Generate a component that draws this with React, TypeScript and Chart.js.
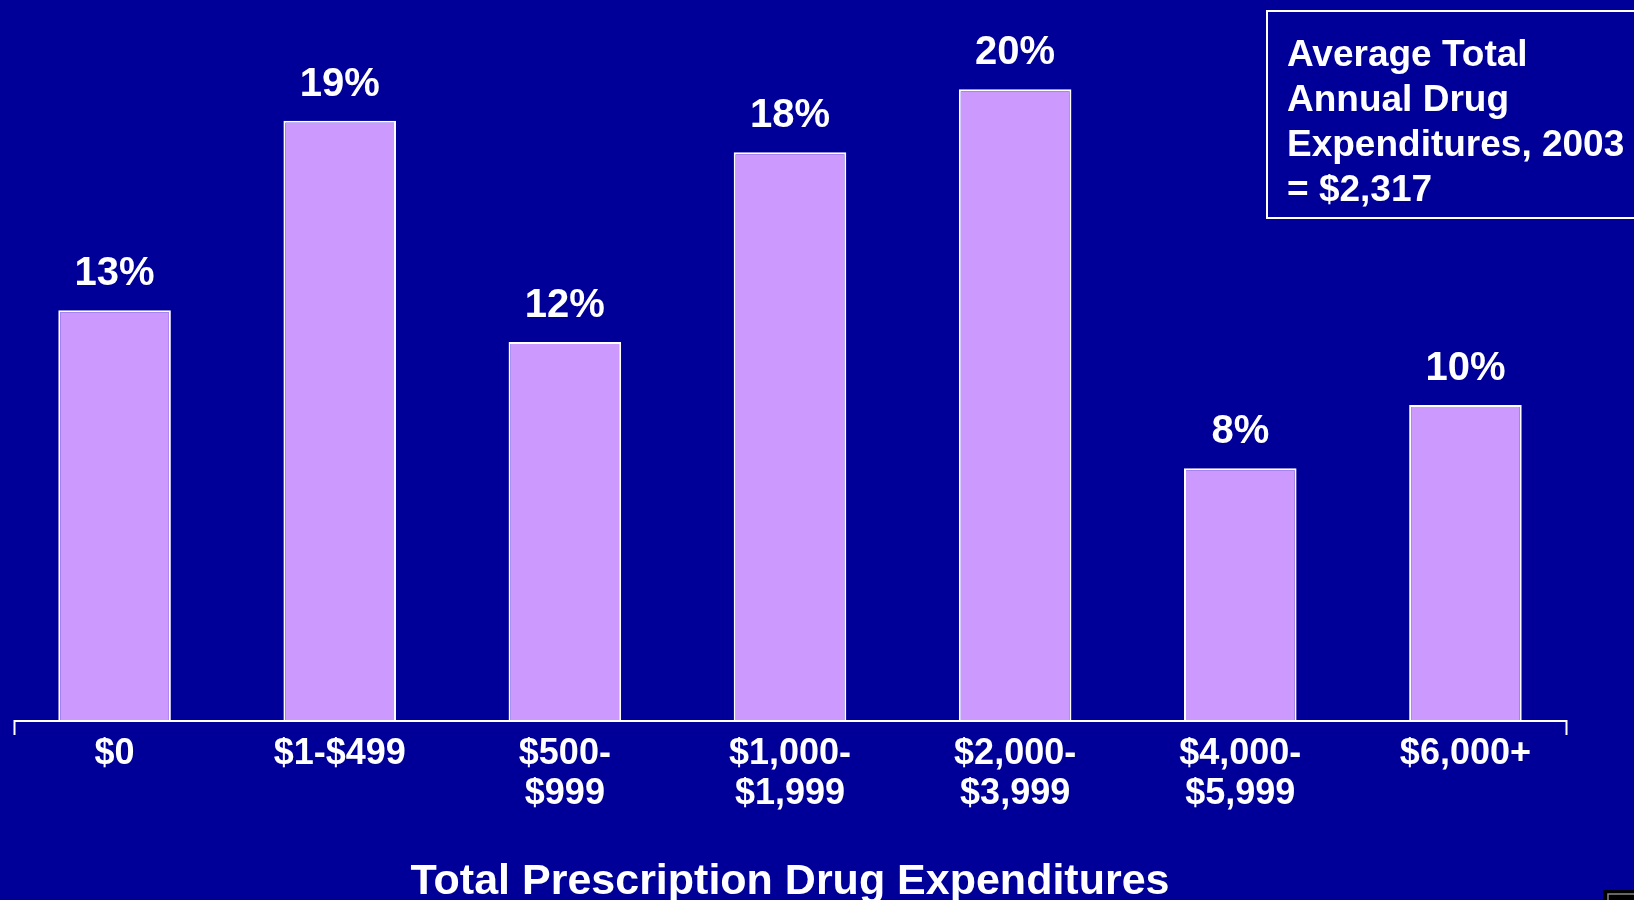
import React, { useEffect, useRef } from "react";
import { Chart, registerables } from "chart.js";

Chart.register(...registerables);

const categories: string[][] = [
  ["$0"],
  ["$1-$499"],
  ["$500-", "$999"],
  ["$1,000-", "$1,999"],
  ["$2,000-", "$3,999"],
  ["$4,000-", "$5,999"],
  ["$6,000+"],
];
const shares: number[] = [13, 19, 12, 18, 20, 8, 10];
const valueLabels: string[] = ["13%", "19%", "12%", "18%", "20%", "8%", "10%"];
const axisTitle = "Total Prescription Drug Expenditures";
const noteLines: string[] = [
  "Average Total",
  "Annual Drug",
  "Expenditures, 2003",
  "= $2,317",
];

const BG = "#000099";
const BAR = "#CC99FF";
const FONT = "'Liberation Sans', Arial, sans-serif";

const decorPlugin = {
  id: "decor",
  beforeDraw(chart: any) {
    const { ctx, width, height } = chart;
    ctx.save();
    ctx.fillStyle = BG;
    ctx.fillRect(0, 0, width, height);
    ctx.restore();
  },
  afterDatasetsDraw(chart: any) {
    const { ctx, chartArea } = chart;
    const meta = chart.getDatasetMeta(0);
    ctx.save();
    // value labels
    ctx.fillStyle = "#FFFFFF";
    ctx.font = `bold 40px ${FONT}`;
    ctx.textAlign = "center";
    ctx.textBaseline = "alphabetic";
    meta.data.forEach((bar: any, i: number) => {
      ctx.fillText(valueLabels[i], bar.x, bar.y - 25);
    });
    // baseline axis with end ticks
    const y = chartArea.bottom;
    const l = chartArea.left + 12.5;
    const r = chartArea.right - 11.5;
    ctx.strokeStyle = "#FFFFFF";
    ctx.lineWidth = 2;
    ctx.beginPath();
    ctx.moveTo(l, y + 14);
    ctx.lineTo(l, y);
    ctx.lineTo(r, y);
    ctx.lineTo(r, y + 14);
    ctx.stroke();
    // note box
    ctx.lineWidth = 2;
    ctx.strokeRect(1267, 11, 400, 207);
    ctx.font = `bold 37px ${FONT}`;
    ctx.textAlign = "left";
    noteLines.forEach((t, i) => {
      ctx.fillText(t, 1287, 66 + i * 45);
    });
    // small corner artifact
    ctx.fillStyle = "#000000";
    ctx.fillRect(1603, 890, 40, 20);
    ctx.strokeStyle = "#888888";
    ctx.lineWidth = 1.5;
    ctx.beginPath();
    ctx.moveTo(1608, 901);
    ctx.lineTo(1608, 894);
    ctx.lineTo(1640, 894);
    ctx.stroke();
    ctx.restore();
  },
};

export default function App() {
  const ref = useRef<HTMLCanvasElement | null>(null);
  useEffect(() => {
    if (!ref.current) return;
    const chart = new Chart(ref.current, {
      type: "bar",
      data: {
        labels: categories,
        datasets: [
          {
            data: shares,
            backgroundColor: BAR,
            borderColor: "#FFFFFF",
            borderWidth: 2,
            barPercentage: 1,
            categoryPercentage: 0.5,
          },
        ],
      },
      options: {
        responsive: false,
        animation: false,
        devicePixelRatio: 1,
        layout: { padding: { left: 2, right: 56, top: 26, bottom: 0 } },
        plugins: {
          legend: { display: false },
          tooltip: { enabled: false },
          title: { display: false },
        },
        scales: {
          x: {
            grid: { display: false, drawTicks: false },
            border: { display: false },
            ticks: {
              color: "#FFFFFF",
              padding: 13,
              maxRotation: 0,
              autoSkip: false,
              font: { family: FONT, size: 36, weight: "bold", lineHeight: 1.11 },
            },
            title: {
              display: true,
              text: axisTitle,
              color: "#FFFFFF",
              padding: 0,
              font: { family: FONT, size: 43, weight: "bold", lineHeight: 0.85 },
            },
            afterFit: (scale: any) => {
              scale.height = 179;
            },
          },
          y: {
            display: false,
            min: 0,
            max: 22,
          },
        },
      },
      plugins: [decorPlugin],
    });
    return () => chart.destroy();
  }, []);
  return (
    <div style={{ position: "absolute", left: 0, top: 0, width: 1634, height: 900, background: BG }}>
      <canvas ref={ref} width={1634} height={900} style={{ display: "block" }} />
    </div>
  );
}
